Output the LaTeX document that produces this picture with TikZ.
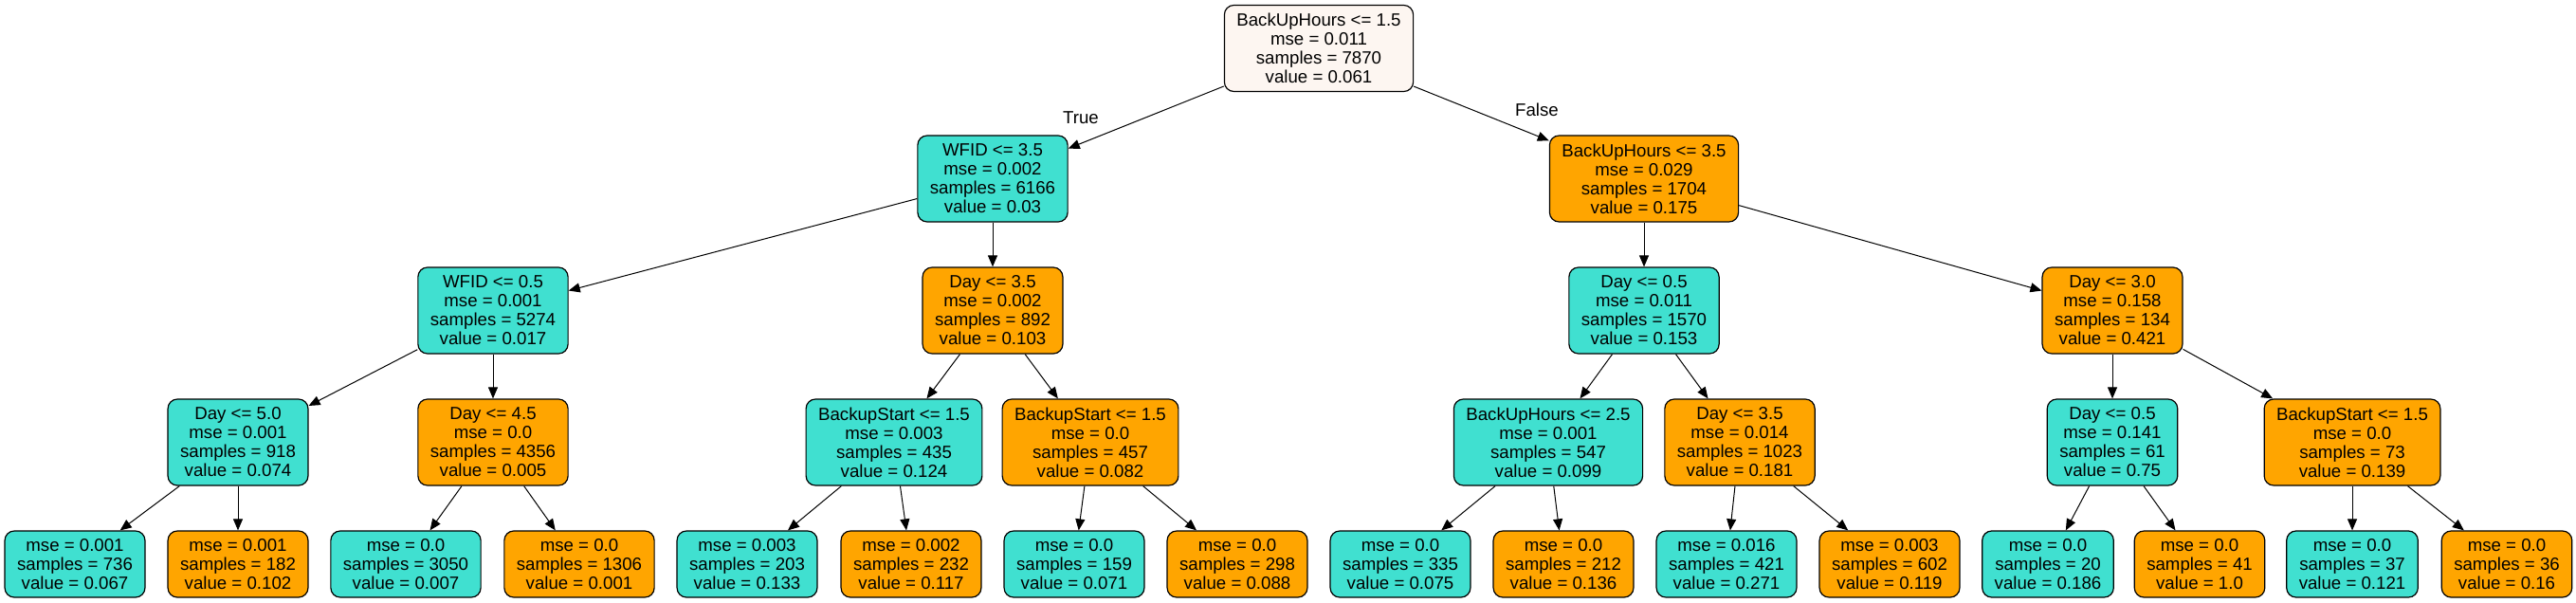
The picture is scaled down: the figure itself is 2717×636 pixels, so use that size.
\documentclass[tikz,border=0pt]{standalone}
\usepackage{fontspec}
\setmainfont{Liberation Sans}
\usetikzlibrary{arrows.meta}
\definecolor{turq}{RGB}{64,224,208}
\definecolor{orng}{RGB}{255,165,0}
\definecolor{rootfill}{RGB}{253,246,241}

\begin{document}
\begin{tikzpicture}[x=0.5pt,y=-0.5pt,
        box/.style={draw, rounded corners=5pt, line width=0.6pt, align=center, inner xsep=6.5pt, inner ysep=0pt, font=\fontsize{9.33pt}{10pt}\selectfont},
        split/.style={box, minimum height=45.5pt},
        leaf/.style={box, minimum height=35pt},
        lo/.style={fill=turq},
        hi/.style={fill=orng},
        edge/.style={-{Triangle[length=6pt,width=5pt]}, line width=0.5pt},
        lab/.style={font=\fontsize{9.33pt}{10pt}\selectfont, inner sep=0pt}]
        \useasboundingbox (0,0) rectangle (2717,636);

        % depth 0 and 1
        \node[split, fill=rootfill] (root) at (1391,51) {BackUpHours <= 1.5\\mse = 0.011\\samples = 7870\\value = 0.061};
        \node[split, lo] (L) at (1047,188.5) {WFID <= 3.5\\mse = 0.002\\samples = 6166\\value = 0.03};
        \node[split, hi] (R) at (1734,188.5) {BackUpHours <= 3.5\\mse = 0.029\\samples = 1704\\value = 0.175};

        % depth 2
        \node[split, lo] (LL) at (520,327.5) {WFID <= 0.5\\mse = 0.001\\samples = 5274\\value = 0.017};
        \node[split, hi] (LR) at (1047,327.5) {Day <= 3.5\\mse = 0.002\\samples = 892\\value = 0.103};
        \node[split, lo] (RL) at (1734,327.5) {Day <= 0.5\\mse = 0.011\\samples = 1570\\value = 0.153};
        \node[split, hi] (RR) at (2228,327.5) {Day <= 3.0\\mse = 0.158\\samples = 134\\value = 0.421};

        % depth 3
        \node[split, lo] (LLL) at (251,466.5) {Day <= 5.0\\mse = 0.001\\samples = 918\\value = 0.074};
        \node[split, hi] (LLR) at (520,466.5) {Day <= 4.5\\mse = 0.0\\samples = 4356\\value = 0.005};
        \node[split, lo] (LRL) at (943,466.5) {BackupStart <= 1.5\\mse = 0.003\\samples = 435\\value = 0.124};
        \node[split, hi] (LRR) at (1150,466.5) {BackupStart <= 1.5\\mse = 0.0\\samples = 457\\value = 0.082};
        \node[split, lo] (RLL) at (1633,466.5) {BackUpHours <= 2.5\\mse = 0.001\\samples = 547\\value = 0.099};
        \node[split, hi] (RLR) at (1835,466.5) {Day <= 3.5\\mse = 0.014\\samples = 1023\\value = 0.181};
        \node[split, lo] (RRL) at (2228,466.5) {Day <= 0.5\\mse = 0.141\\samples = 61\\value = 0.75};
        \node[split, hi] (RRR) at (2481,466.5) {BackupStart <= 1.5\\mse = 0.0\\samples = 73\\value = 0.139};

        % leaves
        \node[leaf, lo] (LLLL) at (79,595) {mse = 0.001\\samples = 736\\value = 0.067};
        \node[leaf, hi] (LLLR) at (251,595) {mse = 0.001\\samples = 182\\value = 0.102};
        \node[leaf, lo] (LLRL) at (428,595) {mse = 0.0\\samples = 3050\\value = 0.007};
        \node[leaf, hi] (LLRR) at (611,595) {mse = 0.0\\samples = 1306\\value = 0.001};
        \node[leaf, lo] (LRLL) at (788,595) {mse = 0.003\\samples = 203\\value = 0.133};
        \node[leaf, hi] (LRLR) at (961,595) {mse = 0.002\\samples = 232\\value = 0.117};
        \node[leaf, lo] (LRRL) at (1133,595) {mse = 0.0\\samples = 159\\value = 0.071};
        \node[leaf, hi] (LRRR) at (1305,595) {mse = 0.0\\samples = 298\\value = 0.088};
        \node[leaf, lo] (RLLL) at (1477,595) {mse = 0.0\\samples = 335\\value = 0.075};
        \node[leaf, hi] (RLLR) at (1649,595) {mse = 0.0\\samples = 212\\value = 0.136};
        \node[leaf, lo] (RLRL) at (1821,595) {mse = 0.016\\samples = 421\\value = 0.271};
        \node[leaf, hi] (RLRR) at (1993,595) {mse = 0.003\\samples = 602\\value = 0.119};
        \node[leaf, lo] (RRLL) at (2160,595) {mse = 0.0\\samples = 20\\value = 0.186};
        \node[leaf, hi] (RRLR) at (2320,595) {mse = 0.0\\samples = 41\\value = 1.0};
        \node[leaf, lo] (RRRL) at (2481,595) {mse = 0.0\\samples = 37\\value = 0.121};
        \node[leaf, hi] (RRRR) at (2644,595) {mse = 0.0\\samples = 36\\value = 0.16};

        % edges
        \draw[edge] (root) -- (L);
        \draw[edge] (root) -- (R);
        \node[lab] (true) at (1140,124) {True};
        \node[lab] (false) at (1621,116) {False};
        \draw[edge] (L) -- (LL);
        \draw[edge] (L) -- (LR);
        \draw[edge] (R) -- (RL);
        \draw[edge] (R) -- (RR);
        \draw[edge] (LL) -- (LLL);
        \draw[edge] (LL) -- (LLR);
        \draw[edge] (LR) -- (LRL);
        \draw[edge] (LR) -- (LRR);
        \draw[edge] (RL) -- (RLL);
        \draw[edge] (RL) -- (RLR);
        \draw[edge] (RR) -- (RRL);
        \draw[edge] (RR) -- (RRR);
        \draw[edge] (LLL) -- (LLLL);
        \draw[edge] (LLL) -- (LLLR);
        \draw[edge] (LLR) -- (LLRL);
        \draw[edge] (LLR) -- (LLRR);
        \draw[edge] (LRL) -- (LRLL);
        \draw[edge] (LRL) -- (LRLR);
        \draw[edge] (LRR) -- (LRRL);
        \draw[edge] (LRR) -- (LRRR);
        \draw[edge] (RLL) -- (RLLL);
        \draw[edge] (RLL) -- (RLLR);
        \draw[edge] (RLR) -- (RLRL);
        \draw[edge] (RLR) -- (RLRR);
        \draw[edge] (RRL) -- (RRLL);
        \draw[edge] (RRL) -- (RRLR);
        \draw[edge] (RRR) -- (RRRL);
        \draw[edge] (RRR) -- (RRRR);
\end{tikzpicture}
\end{document}
